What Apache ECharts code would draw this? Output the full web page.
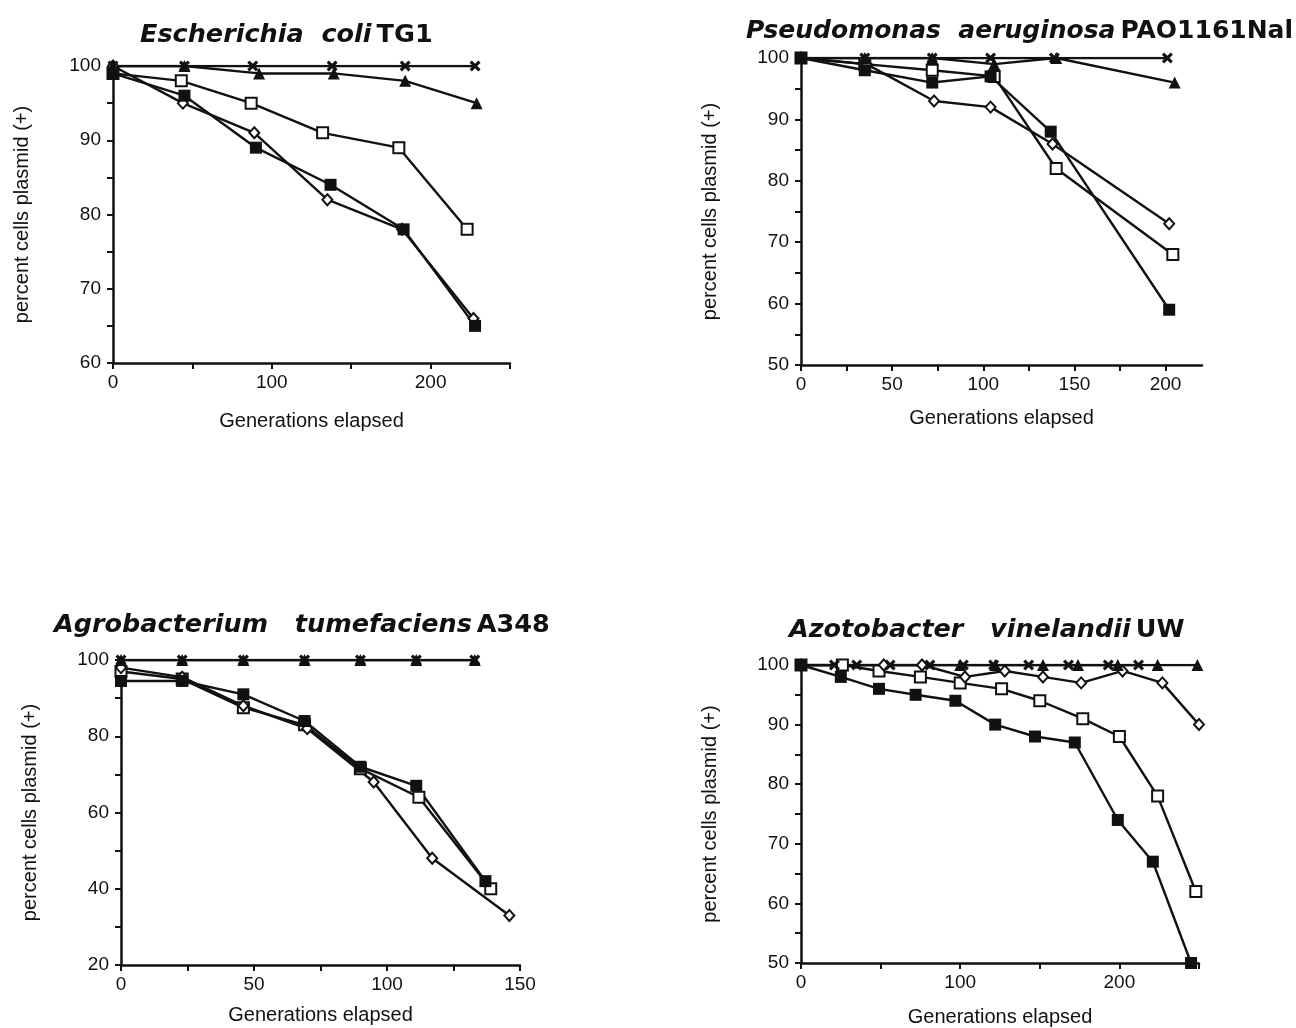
<!DOCTYPE html>
<html>
<head>
<meta charset="utf-8">
<title>Plasmid stability</title>
<script src="https://cdn.jsdelivr.net/npm/echarts@6/dist/echarts.min.js"></script>
<style>
  html, body { margin: 0; padding: 0; background: #fff; }
  #chart { width: 1296px; height: 1028px; }
</style>
</head>
<body>
<div id="chart"></div>
<script>
// points are [generations elapsed, percent cells plasmid (+)]

// Escherichia coli TG1
var ecoliOpenSq = [[0, 99], [43, 98], [87, 95], [132, 91], [180, 89], [223, 78]]
var ecoliDiamond = [[0, 100], [44, 95], [89, 91], [135, 82], [182, 78], [227, 66]]
var ecoliFilledSq = [[0, 99], [45, 96], [90, 89], [137, 84], [183, 78], [228, 65]]
var ecoliTriangle = [[0, 100], [45, 100], [92, 99], [139, 99], [184, 98], [229, 95]]
var ecoliCross = [[0, 100], [45, 100], [88, 100], [138, 100], [184, 100], [228, 100]]

// Pseudomonas aeruginosa PAO1161Nal
var pseudoOpenSq = [[0, 100], [35, 99], [72, 98], [106, 97], [140, 82], [204, 68]]
var pseudoDiamond = [[0, 100], [36, 99], [73, 93], [104, 92], [138, 86], [202, 73]]
var pseudoFilledSq = [[0, 100], [35, 98], [72, 96], [104, 97], [137, 88], [202, 59]]
var pseudoTriangle = [[0, 100], [35, 100], [72, 100], [106, 99], [140, 100], [205, 96]]
var pseudoCross = [[0, 100], [35, 100], [72, 100], [104, 100], [139, 100], [201, 100]]

// Agrobacterium tumefaciens A348
var agroOpenSq = [[0, 97], [23, 95], [46, 87.5], [69, 83], [90, 71.5], [112, 64], [139, 40]]
var agroDiamond = [[0, 98], [23, 95.5], [46, 88], [70, 82], [95, 68], [117, 48], [146, 33]]
var agroFilledSq = [[0, 94.5], [23, 94.5], [46, 91], [69, 84], [90, 72], [111, 67], [137, 42]]
var agroTriangle = [[0, 100], [23, 100], [46, 100], [69, 100], [90, 100], [111, 100], [133, 100]]
var agroCross = [[0, 100], [23, 100], [46, 100], [69, 100], [90, 100], [111, 100], [133, 100]]

// Azotobacter vinelandii UW
var azotoOpenSq = [[0, 100], [26, 100], [49, 99], [75, 98], [100, 97], [126, 96], [150, 94], [177, 91], [200, 88], [224, 78], [248, 62]]
var azotoDiamond = [[0, 100], [52, 100], [76, 100], [103, 98], [128, 99], [152, 98], [176, 97], [202, 99], [227, 97], [250, 90]]
var azotoFilledSq = [[0, 100], [25, 98], [49, 96], [72, 95], [97, 94], [122, 90], [147, 88], [172, 87], [199, 74], [221, 67], [245, 50]]
var azotoTriangle = [[0, 100], [100, 100], [122, 100], [152, 100], [174, 100], [199, 100], [224, 100], [249, 100]]
var azotoCross = [[0, 100], [21, 100], [35, 100], [56, 100], [81, 100], [102, 100], [121, 100], [143, 100], [168, 100], [193, 100], [212, 100]]

// tick and label positions
var ecoliXTicks = [0, 50, 100, 150, 200, 250]
var ecoliXLabels = [0, 100, 200]
var ecoliYTicks = [60, 65, 70, 75, 80, 85, 90, 95, 100]
var ecoliYLabels = [60, 70, 80, 90, 100]
var pseudoXTicks = [0, 25, 50, 75, 100, 125, 150, 175, 200]
var pseudoXLabels = [0, 50, 100, 150, 200]
var pseudoYTicks = [50, 55, 60, 65, 70, 75, 80, 85, 90, 95, 100]
var pseudoYLabels = [50, 60, 70, 80, 90, 100]
var agroXTicks = [0, 25, 50, 75, 100, 125, 150]
var agroXLabels = [0, 50, 100, 150]
var agroYTicks = [20, 30, 40, 50, 60, 70, 80, 90, 100]
var agroYLabels = [20, 40, 60, 80, 100]
var azotoXTicks = [0, 50, 100, 150, 200, 250]
var azotoXLabels = [0, 100, 200]
var azotoYTicks = [50, 55, 60, 65, 70, 75, 80, 85, 90, 95, 100]
var azotoYLabels = [50, 60, 70, 80, 90, 100]

var INK = '#111'
var FONT = '"Liberation Sans", Arial, Helvetica, sans-serif'
var TITLE_FONT = '"DejaVu Sans", Verdana, sans-serif'
var crossPath = 'path://M0,2L2,0L5,3L8,0L10,2L7,5L10,8L8,10L5,7L2,10L0,8L3,5Z'

var chart = echarts.init(document.getElementById('chart'))

// marker look for each treatment
var MARKS = {
  openSq: { symbol: 'rect', symbolSize: 11, itemStyle: { color: '#fff', borderColor: INK, borderWidth: 2 } },
  diamond: { symbol: 'diamond', symbolSize: [10, 11], itemStyle: { color: '#fff', borderColor: INK, borderWidth: 2 } },
  filledSq: { symbol: 'rect', symbolSize: 12, itemStyle: { color: INK } },
  triangle: { symbol: 'triangle', symbolSize: 12, itemStyle: { color: INK } },
  cross: { symbol: crossPath, symbolSize: 11, itemStyle: { color: INK } }
}

function line(i, kind, data) {
  var s = {
    type: 'line',
    xAxisIndex: i,
    yAxisIndex: i,
    data: data,
    showAllSymbol: true,
    lineStyle: { color: INK, width: 2.4 },
    emphasis: { disabled: true },
    silent: true
  }
  return Object.assign(s, MARKS[kind])
}

function xAxisFor(i, max, ticks, labels, gap) {
  return {
    type: 'value',
    gridIndex: i,
    min: 0,
    max: max,
    name: 'Generations elapsed',
    nameLocation: 'middle',
    nameGap: gap,
    nameTextStyle: { fontFamily: FONT, fontSize: 20, color: INK },
    axisLine: { onZero: false, lineStyle: { color: INK, width: 2.5 } },
    axisTick: { customValues: ticks, length: 6, lineStyle: { color: INK, width: 2 } },
    axisLabel: { customValues: labels, margin: 10, fontFamily: FONT, fontSize: 19, color: INK },
    splitLine: { show: false }
  }
}

function yAxisFor(i, min, ticks, labels) {
  return {
    type: 'value',
    gridIndex: i,
    min: min,
    max: 100,
    name: 'percent cells plasmid (+)',
    nameLocation: 'middle',
    nameGap: 81,
    nameTextStyle: { fontFamily: FONT, fontSize: 20, color: INK },
    axisLine: { onZero: false, lineStyle: { color: INK, width: 2.5 } },
    axisTick: { customValues: ticks, length: 6, lineStyle: { color: INK, width: 2 } },
    axisLabel: { customValues: labels, margin: 12, fontFamily: FONT, fontSize: 19, color: INK },
    splitLine: { show: false }
  }
}

function titleFor(genus, gap, species, strain, left, top, size) {
  var base = { fontFamily: TITLE_FONT, fontWeight: 'bold', fontSize: size, color: INK }
  return {
    text: '{i|' + genus + gap + species + '} {b|' + strain + '}',
    left: left,
    top: top,
    padding: 0,
    textStyle: {
      rich: {
        i: Object.assign({ fontStyle: 'italic' }, base),
        b: base
      }
    }
  }
}

var option = {
  animation: false,
  backgroundColor: '#fff',
  title: [
    titleFor('Escherichia', '  ', 'coli', 'TG1', 140, 22, 25.5),
    titleFor('Pseudomonas', '  ', 'aeruginosa', 'PAO1161Nal', 746, 19, 25),
    titleFor('Agrobacterium', '   ', 'tumefaciens', 'A348', 54, 612, 25.5),
    titleFor('Azotobacter', '   ', 'vinelandii', 'UW', 789, 617, 25.5)
  ],
  grid: [
    { left: 113, top: 66, width: 397, height: 297 },
    { left: 801, top: 58, width: 401, height: 307 },
    { left: 121, top: 660, width: 399, height: 305 },
    { left: 801, top: 665, width: 398, height: 301 }
  ],
  xAxis: [
    xAxisFor(0, 250, ecoliXTicks, ecoliXLabels, 48),
    xAxisFor(1, 220, pseudoXTicks, pseudoXLabels, 43),
    xAxisFor(2, 150, agroXTicks, agroXLabels, 40),
    xAxisFor(3, 250, azotoXTicks, azotoXLabels, 44)
  ],
  yAxis: [
    yAxisFor(0, 60, ecoliYTicks, ecoliYLabels),
    yAxisFor(1, 50, pseudoYTicks, pseudoYLabels),
    yAxisFor(2, 20, agroYTicks, agroYLabels),
    yAxisFor(3, 50, azotoYTicks, azotoYLabels)
  ],
  series: [
    line(0, 'openSq', ecoliOpenSq),
    line(0, 'diamond', ecoliDiamond),
    line(0, 'filledSq', ecoliFilledSq),
    line(0, 'triangle', ecoliTriangle),
    line(0, 'cross', ecoliCross),

    line(1, 'openSq', pseudoOpenSq),
    line(1, 'diamond', pseudoDiamond),
    line(1, 'filledSq', pseudoFilledSq),
    line(1, 'triangle', pseudoTriangle),
    line(1, 'cross', pseudoCross),

    line(2, 'openSq', agroOpenSq),
    line(2, 'diamond', agroDiamond),
    line(2, 'filledSq', agroFilledSq),
    line(2, 'triangle', agroTriangle),
    line(2, 'cross', agroCross),

    line(3, 'openSq', azotoOpenSq),
    line(3, 'diamond', azotoDiamond),
    line(3, 'filledSq', azotoFilledSq),
    line(3, 'triangle', azotoTriangle),
    line(3, 'cross', azotoCross)
  ]
}

chart.setOption(option)
</script>
</body>
</html>
